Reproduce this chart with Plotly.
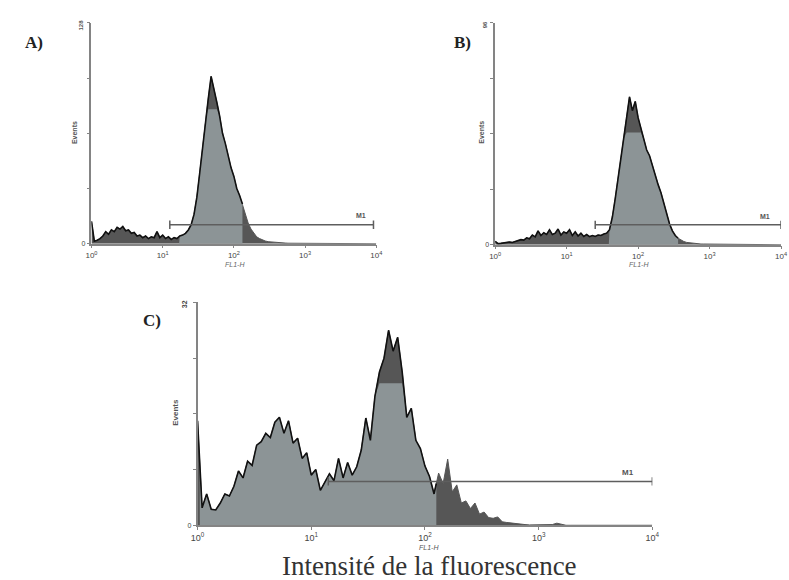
import numpy as np
import plotly.graph_objects as go

W, H = 789, 580

# log10 channel positions (decades 10^0 .. 10^4)
decades = np.round(np.arange(101) * 0.04, 2)

counts_A = [13, 1.5, 2.0, 3.0, 4.5, 7.0, 5.5, 8.0, 7.0, 9.5,
            8.5, 10.0, 7.5, 8.0, 6.0, 6.5, 4.5, 5.0, 3.5, 4.5,
            3.0, 4.0, 3.5, 7.0, 3.5, 5.0, 3.0, 4.0, 2.5, 3.5,
            3.0, 4.5, 5.0, 6.0, 8.0, 11.0, 17.0, 27.0, 41.0, 56.0,
            72.0, 84.0, 97.0, 90.0, 82.0, 74.0, 64.0, 58.0, 50.0, 44.0,
            39.0, 32.0, 28.0, 23.0, 17.0, 12.0, 8.5, 6.0, 4.0, 3.0,
            2.2, 1.6, 1.2, 1.0, 0.8, 0.6, 0.5, 0.4, 0.4, 0.3,
            0.3, 0.3, 0.2, 0.2, 0.2, 0.2, 0.1, 0.1, 0.1, 0.1,
            0.1] + [0] * 20

counts_B = [1.5, 0.5, 0.6, 0.8, 1.0, 1.2, 1.0, 1.5, 1.8, 2.2,
            2.0, 3.0, 2.6, 4.2, 3.4, 6.0, 4.0, 5.2, 4.5, 6.5,
            4.4, 5.0, 6.8, 4.2, 5.5, 5.0, 6.5, 4.0, 5.6, 3.8,
            5.0, 3.6, 4.4, 3.5, 4.0, 3.6, 4.2, 4.0, 4.6, 5.0,
            6.5, 12.0, 20.0, 29.0, 38.0, 46.0, 54.0, 64.0, 58.0, 62.0,
            55.0, 50.0, 45.0, 41.0, 38.5, 34.0, 30.5, 26.0, 22.5, 18.0,
            14.0, 9.0, 6.0, 4.0, 2.8, 2.0, 1.4, 1.0, 0.8, 0.6,
            0.5, 0.4, 0.3, 0.3, 0.3, 0.2, 0.2, 0.2, 0.1, 0.1,
            0.1] + [0] * 20

counts_C = [15, 2.5, 4.5, 2.3, 2.2, 3.2, 4.5, 4.2, 5.6, 7.8,
            6.8, 9.2, 8.6, 11.5, 12.0, 13.2, 12.6, 14.8, 15.5, 13.2,
            15.0, 11.8, 12.5, 9.6, 10.4, 7.2, 8.0, 5.0, 6.2, 7.4,
            6.4, 9.6, 6.8, 9.0, 7.2, 8.4, 10.8, 15.4, 12.2, 18.5,
            22.0, 24.0, 28.0, 25.0, 27.0, 22.0, 15.5, 16.8, 12.2, 11.0,
            8.5, 7.0, 4.5, 7.5, 6.0, 9.5, 4.8, 5.8, 3.2, 3.5,
            2.4, 3.2, 1.6, 1.9, 1.1, 1.0, 1.2, 0.5, 0.4, 0.3,
            0.2, 0.1, 0.1, 0.05, 0.05, 0.05, 0.05, 0.05, 0.1, 0.3,
            0.1] + [0] * 20

tick_vals = [0, 1, 2, 3, 4]
tick_text = ["10<sup>0</sup>", "10<sup>1</sup>", "10<sup>2</sup>", "10<sup>3</sup>", "10<sup>4</sup>"]

panels = {
    "A": dict(counts=counts_A, ymax=128, top_label="128", light=(1.23, 2.12), cap=78,
              m1=(1.10, 3.96, 11)),
    "B": dict(counts=counts_B, ymax=96, top_label="96", light=(1.59, 2.56), cap=48.6,
              m1=(1.40, 4.0, 8.6)),
    "C": dict(counts=counts_C, ymax=32, top_label="32", light=(0.02, 2.10), cap=20.4,
              m1=(1.15, 4.0, 6.3)),
}

# pixel boxes for the three plot areas (left, right, top, bottom)
boxes = {"A": (86, 376, 23, 245), "B": (497, 788, 23, 246), "C": (194, 657, 304, 528)}
axis_ids = {"A": ("x", "y"), "B": ("x2", "y2"), "C": ("x3", "y3")}

DARK = "#565656"
LIGHT = "#8c9496"
AXIS = "#848484"

fig = go.Figure()
layout_axes = {}

for key, p in panels.items():
    xa, ya = axis_ids[key]
    c = np.array(p["counts"], dtype=float)
    lo, hi = p["light"]
    cap = p["cap"]
    # dark full histogram
    fig.add_trace(go.Scatter(x=decades, y=c, xaxis=xa, yaxis=ya, mode="lines",
                             line=dict(color=DARK, width=1), fill="tozeroy", fillcolor=DARK,
                             hoverinfo="skip"))
    # light highlighted region
    inner = (decades > lo) & (decades < hi)
    vlo = min(np.interp(lo, decades, c), cap)
    vhi = min(np.interp(hi, decades, c), cap)
    lx = [lo, lo] + list(decades[inner]) + [hi, hi]
    ly = [0, vlo] + list(np.minimum(c[inner], cap)) + [vhi, 0]
    fig.add_trace(go.Scatter(x=lx, y=ly, xaxis=xa, yaxis=ya, mode="lines",
                             line=dict(color=LIGHT, width=0), fill="toself", fillcolor=LIGHT,
                             hoverinfo="skip"))
    # black outline up to the highlighted region's right edge
    sel = decades < hi
    ox = list(decades[sel]) + [hi]
    oy = list(c[sel]) + [np.interp(hi, decades, c)]
    fig.add_trace(go.Scatter(x=ox, y=oy, xaxis=xa, yaxis=ya, mode="lines",
                             line=dict(color="#111111", width=1.6), hoverinfo="skip"))
    # M1 marker
    m0, m1e, my = p["m1"]
    fig.add_trace(go.Scatter(x=[m0, m1e], y=[my, my], xaxis=xa, yaxis=ya, mode="lines+markers",
                             line=dict(color="#5e5e5e", width=1.5),
                             marker=dict(symbol="line-ns", size=6, line=dict(color="#5e5e5e", width=1.5)),
                             hoverinfo="skip"))

    L, R, T, B = boxes[key]
    xname = "xaxis" if xa == "x" else "xaxis" + xa[1:]
    yname = "yaxis" if ya == "y" else "yaxis" + ya[1:]
    ymax = p["ymax"]
    layout_axes[xname] = dict(domain=[L / W, R / W], anchor=ya, range=[0, 4],
                              showline=True, linecolor=AXIS, linewidth=1.5,
                              tickvals=tick_vals, ticktext=tick_text,
                              ticks="outside", ticklen=3, tickcolor=AXIS,
                              tickfont=dict(size=8 if key != "C" else 9, color="#444",
                                            family="Liberation Sans"),
                              showgrid=False, zeroline=False, fixedrange=True)
    layout_axes[yname] = dict(domain=[1 - B / H, 1 - T / H], anchor=xa, range=[0, ymax],
                              showline=True, linecolor=AXIS, linewidth=1.5,
                              tickvals=[0, ymax / 4, ymax / 2, 3 * ymax / 4, ymax],
                              ticktext=["0", "", "", "", ""],
                              ticks="outside", ticklen=3, tickcolor=AXIS,
                              tickfont=dict(size=7, color="#444", family="Liberation Sans"),
                              showgrid=False, zeroline=False, fixedrange=True)


def ann(text, px, py, size, angle=0, family="Liberation Sans", color="#333"):
    return dict(text=text, x=px / W, y=1 - py / H, xref="paper", yref="paper",
                showarrow=False, textangle=angle, xanchor="center", yanchor="middle",
                font=dict(size=size, family=family, color=color))


annotations = [
    ann("<b>A)</b>", 27, 43, 17, family="Liberation Serif", color="#222"),
    ann("<b>B)</b>", 464, 43, 17, family="Liberation Serif", color="#222"),
    ann("<b>C)</b>", 148, 322, 17, family="Liberation Serif", color="#222"),
    ann("<b>Events</b>", 69, 133, 7, angle=-90, color="#555"),
    ann("<b>Events</b>", 483, 133, 7, angle=-90, color="#555"),
    ann("<b>Events</b>", 172, 414, 8, angle=-90, color="#555"),
    ann("<b>" + panels["A"]["top_label"] + "</b>", 75, 25, 6, angle=-90, color="#555"),
    ann("<b>" + panels["B"]["top_label"] + "</b>", 487, 25, 6, angle=-90, color="#555"),
    ann("<b>" + panels["C"]["top_label"] + "</b>", 181, 306, 7, angle=-90, color="#444"),
    ann("<b>M1</b>", 360, 217, 7, color="#555"),
    ann("<b>M1</b>", 772, 218, 7, color="#555"),
    ann("<b>M1</b>", 632, 475, 8, color="#555"),
    ann("<i>FL1-H</i>", 232, 266, 7, color="#666"),
    ann("<i>FL1-H</i>", 643, 266, 7, color="#666"),
    ann("<i>FL1-H</i>", 430, 550, 7, color="#555"),
    ann("Intensité de la fluorescence", 430, 569, 27, family="Liberation Serif", color="#333"),
]

fig.update_layout(width=W, height=H, margin=dict(l=0, r=0, t=0, b=0),
                  paper_bgcolor="white", plot_bgcolor="white", showlegend=False,
                  annotations=annotations, **layout_axes)

fig.write_html("out.html")
